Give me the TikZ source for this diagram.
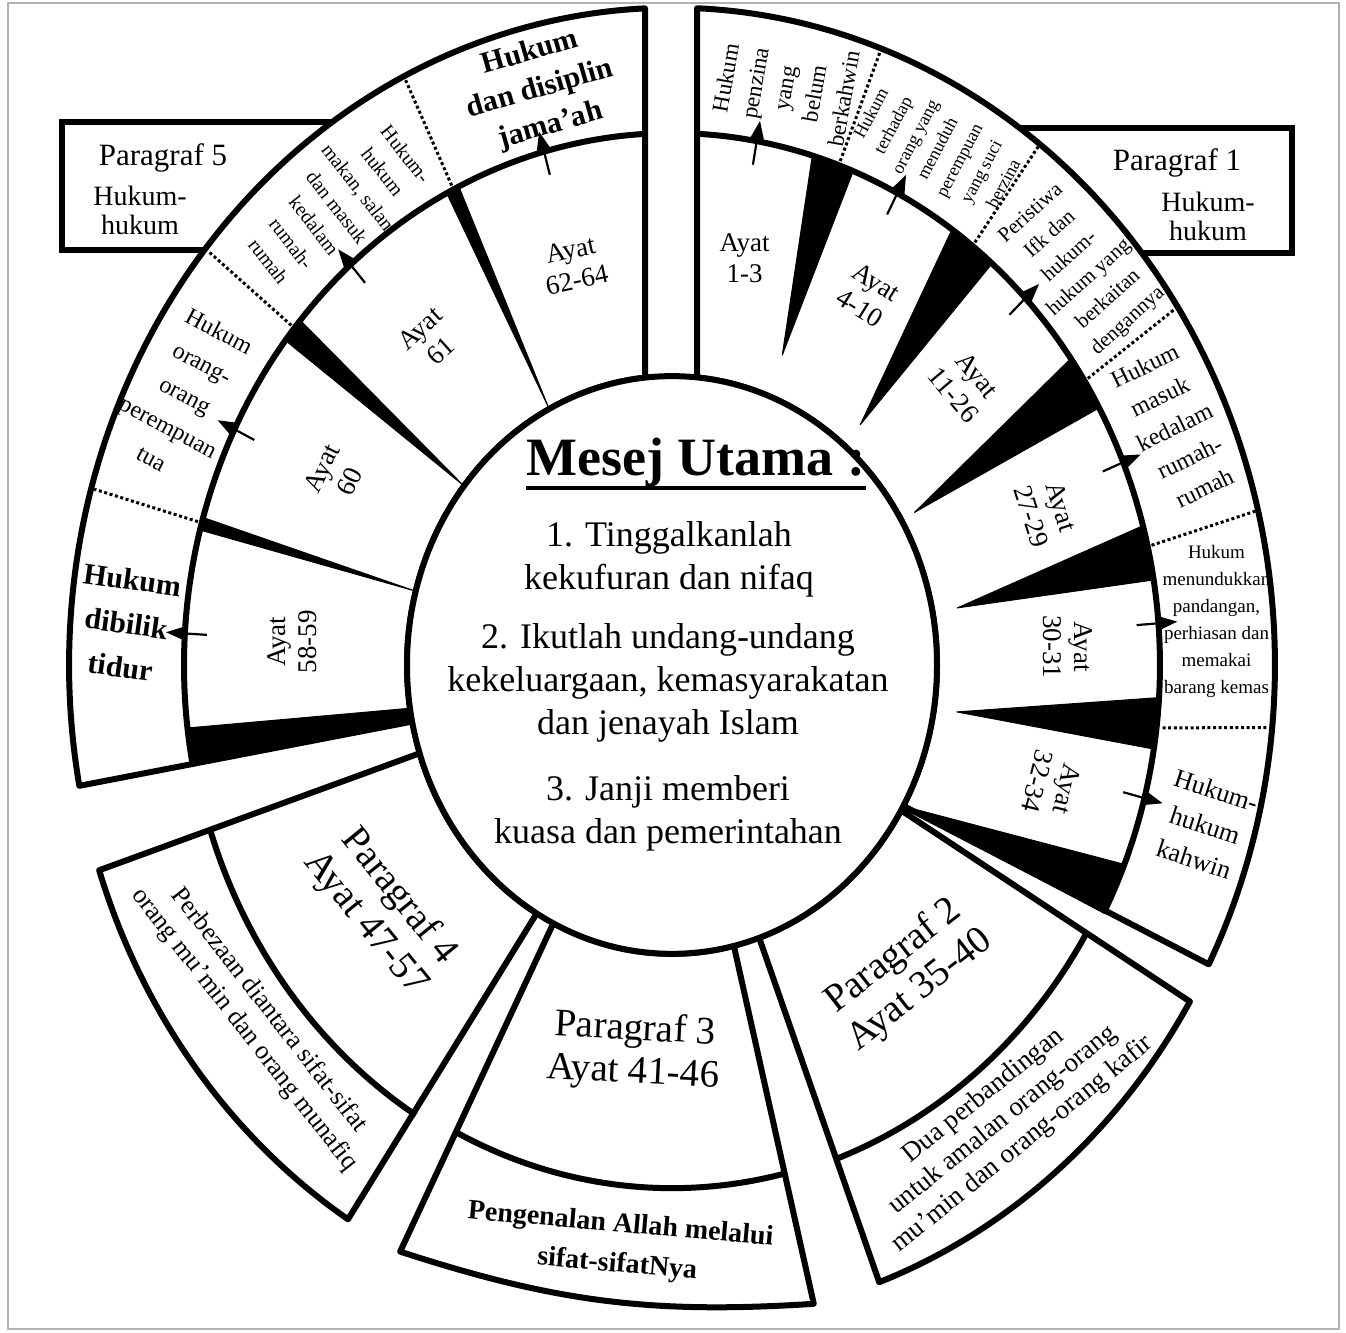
\documentclass[tikz,border=0pt]{standalone}
\usepackage{fontspec}
\setmainfont{Liberation Serif}
\usetikzlibrary{arrows.meta}

\tikzset{
  ringline/.style={line width=3pt, line join=round},
  boxline/.style={line width=2.6pt},
  blackwedge/.style={fill=black, draw=black, line width=0.5pt, line join=round},
  dotsep/.style={line width=1.5pt, dash pattern=on 1.5pt off 1.3pt},
  ayatarrow/.style={line width=1.1pt, -{Triangle[length=9pt,width=6.5pt]}},
  ayatlbl/.style={align=center, inner sep=0pt, font=\fontsize{13.5}{15.5}\selectfont},
  topic/.style={align=center, inner sep=0pt},
  paralbl/.style={align=center, inner sep=0pt, font=\fontsize{19.5}{21.5}\selectfont},
  msgtext/.style={align=center, inner sep=0pt, font=\fontsize{18}{21.5}\selectfont},
}

\begin{document}
\begin{tikzpicture}[x=0.5pt,y=0.5pt]
\useasboundingbox (0,0) rectangle (1346,1333);
% page frame
\draw[gray!60, line width=0.8pt] (8,4) rectangle (1339,1330);

%Shape: Rectangle [Paragraf 5 box]
\draw[boxline, fill=white] (62,1083) rectangle (420,1211);
%Shape: Rectangle [Paragraf 1 box]
\draw[boxline, fill=white] (950,1080) rectangle (1292,1205);

\begin{scope}[shift={(672,668)}, yscale=1.09]
  %Shape: Paragraf 5 ring (ayat 58-64)
  \filldraw[ringline, fill=white] (-27,263.6) -- (-27,602.4)
    arc[start angle=92.57, end angle=190.6, radius=603] -- (191.3:265)
    arc[start angle=191.3, end angle=95.85, radius=265] -- cycle;
  %Shape: Paragraf 1 ring (ayat 1-34)
  \filldraw[ringline, fill=white] (25,263.8) -- (25,602.5)
    arc[start angle=87.62, end angle=-27.1, radius=603] -- (-29.2:265)
    arc[start angle=-29.2, end angle=84.58, radius=265] -- cycle;
  %Shape: Paragraf 2 sector
  \filldraw[ringline, fill=white] (-30.2:265) -- (-30.8:603)
    arc[start angle=-30.8, end angle=-69.9, radius=603] -- (-70.8:265)
    arc[start angle=-70.8, end angle=-30.2, radius=265] -- cycle;
  %Shape: Paragraf 3 sector
  \filldraw[ringline, fill=white] (-116.6:265) -- (-116.8:603)
    to[bend right=10] (-76.4:603) -- (-76.5:265)
    arc[start angle=-76.5, end angle=-116.6, radius=265] -- cycle;
  %Shape: Paragraf 4 sector
  \filldraw[ringline, fill=white] (-162.2:265) -- (-161.8:603)
    arc[start angle=-161.8, end angle=-122.5, radius=603] -- (-120.7:265)
    arc[start angle=-120.7, end angle=-162.2, radius=265] -- cycle;

  % inner arcs between ayat and topics
  \draw[ringline] (-27,487.25) arc[start angle=93.17, end angle=190.84, radius=488];
  \draw[ringline] (25,487.36) arc[start angle=87.06, end angle=-27.8, radius=488];
  \draw[ringline] (-30.5:482) arc[start angle=-30.5, end angle=-70.3, radius=482];
  \draw[ringline] (-116.7:480) arc[start angle=-116.7, end angle=-76.5, radius=480];
  \draw[ringline] (-161.9:486) arc[start angle=-161.9, end angle=-121.8, radius=486];

  % black wedges, Paragraf 1
  \filldraw[blackwedge] (68.2:489) -- (73.3:489) -- (68.8:305) -- cycle;
  \filldraw[blackwedge] (49:489) -- (55:489) -- (49.5:290) -- cycle;
  \filldraw[blackwedge] (28.9:489) -- (35.2:489) -- (30:280) -- cycle;
  \filldraw[blackwedge] (9.2:489) -- (15.2:489) -- (10.4:290) -- cycle;
  \filldraw[blackwedge] (-9.1:489) -- (-3.5:489) -- (-8.6:288) -- cycle;
  \filldraw[blackwedge] (-27.8:489) -- (-22:489) -- (-29.2:266) -- cycle;
  % black wedges, Paragraf 5
  \filldraw[blackwedge] (115.9:489) -- (117.5:489) -- (117.6:266) -- cycle;
  \filldraw[blackwedge] (139.6:489) -- (142.4:489) -- (141.7:266) -- cycle;
  \filldraw[blackwedge] (163.9:489) -- (165.3:489) -- (165.2:266) -- cycle;
  \filldraw[blackwedge] (188.6:266) -- (186.8:489) -- (190.84:489) -- (191.3:266) -- cycle;

  % dotted separators between topics
  \draw[dotsep] (116.6:492) -- (116.4:600);
  \draw[dotsep] (140.7:492) -- (140.7:600);
  \draw[dotsep] (164.5:492) -- (164.4:600);
  \draw[dotsep] (70:492) -- (69.7:600);
  \draw[dotsep] (52:492) -- (52.4:600);
  \draw[dotsep] (32.3:492) -- (33:600);
  \draw[dotsep] (12.9:492) -- (13.6:600);
  \draw[dotsep] (-6.7:494) -- (-5.5:600);

  % ayat to topic pointers
  \draw[ayatarrow] (80:466) -- (80:507);
  \draw[ayatarrow] (62.5:466) -- (62.5:507);
  \draw[ayatarrow] (43.6:466) -- (43.6:507);
  \draw[ayatarrow] (22.4:466) -- (22.4:507);
  \draw[ayatarrow] (4.5:466) -- (4.5:507);
  \draw[ayatarrow] (-14.5:466) -- (-14.5:507);
  \draw[ayatarrow] (105.2:466) -- (105.2:507);
  \draw[ayatarrow] (131.2:466) -- (131.2:507);
  \draw[ayatarrow] (153.7:466) -- (153.7:507);
  \draw[ayatarrow] (176.6:466) -- (176.6:507);

  %Shape: Circle [Mesej Utama]
  \filldraw[ringline, fill=white] (0,0) circle[radius=265];

  % Text Node: ayat
  \node[ayatlbl] (ayat13) at (79:380) {Ayat\\1-3};
  \node[ayatlbl, rotate=-32] (ayat410) at (60:392) {Ayat\\4-10};
  \node[ayatlbl, rotate=-50] (ayat1126) at (41.2:390) {Ayat\\11-26};
  \node[ayatlbl, rotate=-72] (ayat2729) at (20.6:400) {Ayat\\27-29};
  \node[ayatlbl, rotate=-90] (ayat3031) at (2.4:396) {Ayat\\30-31};
  \node[ayatlbl, rotate=-104] (ayat3234) at (-16.2:396) {Ayat\\32-34};
  \node[ayatlbl, rotate=12] (ayat6264) at (105:380) {Ayat\\62-64};
  \node[ayatlbl, rotate=42] (ayat61) at (129:384) {Ayat\\61};
  \node[ayatlbl, rotate=64] (ayat60) at (152.6:379) {Ayat\\60};
  \node[ayatlbl, rotate=90] (ayat5859) at (176.8:380) {Ayat\\58-59};

  % Text Node: topics
  \node[topic, rotate=16, font=\bfseries\fontsize{15}{19}\selectfont] (disiplin) at (104:544) {Hukum\\dan disiplin\\jama’ah};
  \node[topic, rotate=-52, font=\fontsize{10}{14.5}\selectfont] (makan) at (128.6:537) {Hukum-\\hukum\\makan, salam\\dan masuk\\kedalam\\rumah-\\rumah};
  \node[topic, rotate=-28, font=\fontsize{12}{18}\selectfont] (perempuan) at (153:546) {Hukum\\orang-\\orang\\perempuan\\tua};
  \node[topic, rotate=-8, font=\bfseries\fontsize{15}{22}\selectfont] (bilik) at (176:547) {Hukum\\dibilik\\tidur};
  \node[topic, rotate=80, font=\fontsize{11.5}{15}\selectfont] (penzina) at (78:541) {Hukum\\penzina\\yang\\belum\\berkahwin};
  \node[topic, rotate=62, font=\fontsize{9}{12.5}\selectfont] (menuduh) at (60.8:543) {Hukum\\terhadap\\orang yang\\menuduh\\perempuan\\yang suci\\berzina};
  \node[topic, rotate=42, font=\fontsize{10.5}{14.5}\selectfont] (ifk) at (41.8:547) {Peristiwa\\Ifk dan\\hukum-\\hukum yang\\berkaitan\\dengannya};
  \node[topic, rotate=26, font=\fontsize{12}{17}\selectfont] (masuk) at (23.5:548) {Hukum\\masuk\\kedalam\\rumah-\\rumah};
  \node[topic, font=\fontsize{9.5}{13.5}\selectfont] (pandangan) at (4.2:546) {Hukum\\menundukkan\\pandangan,\\perhiasan dan\\memakai\\barang kemas};
  \node[topic, rotate=-18, font=\fontsize{13}{18}\selectfont] (kahwin) at (-15.4:553) {Hukum-\\hukum\\kahwin};

  % Text Node: paragraf 2-4
  \node[paralbl, rotate=38] (para2) at (-50.3:368) {Paragraf 2\\Ayat 35-40};
  \node[topic, rotate=39, font=\fontsize{13.5}{15.5}\selectfont] (perbandingan) at (-51.6:533) {Dua perbandingan\\untuk amalan orang-orang\\mu’min dan orang-orang kafir};
  \node[paralbl, rotate=-3] (para3) at (-96.1:357) {Paragraf 3\\Ayat 41-46};
  \node[topic, rotate=-5, font=\bfseries\fontsize{14}{20}\selectfont] (pengenalan) at (-95.7:535) {Pengenalan Allah melalui\\sifat-sifatNya};
  \node[paralbl, rotate=-51] (para4) at (-142.2:367) {Paragraf 4\\Ayat 47-57};
  \node[topic, rotate=-52, font=\fontsize{13}{15.5}\selectfont] (perbezaan) at (-141.9:528) {Perbezaan diantara sifat-sifat\\orang mu’min dan orang munafiq};
\end{scope}

% Text Node: boxes
\node[topic, font=\fontsize{15.5}{17}\selectfont] (p5head) at (163,1175) {Paragraf 5};
\node[topic, font=\fontsize{14}{14.5}\selectfont] (p5body) at (140,1123) {Hukum-\\hukum};
\node[topic, font=\fontsize{15.5}{17}\selectfont] (p1head) at (1177,1170) {Paragraf 1};
\node[topic, font=\fontsize{14}{14.5}\selectfont] (p1body) at (1208,1117) {Hukum-\\hukum};

% Text Node: mesej utama
\node[anchor=base, inner sep=0pt, font=\bfseries\fontsize{27}{30}\selectfont] (mesej) at (696,857) {Mesej Utama :};
\draw[line width=1.6pt] ([yshift=-6pt]mesej.base west) -- ([yshift=-6pt]mesej.base east);
\node[msgtext] (pesan1) at (669,774) {1. Tinggalkanlah\\kekufuran dan nifaq};
\node[msgtext] (pesan2) at (668,650) {2. Ikutlah undang-undang\\kekeluargaan, kemasyarakatan\\dan jenayah Islam};
\node[msgtext] (pesan3) at (668,520) {3. Janji memberi\\kuasa dan pemerintahan};
\end{tikzpicture}
\end{document}
